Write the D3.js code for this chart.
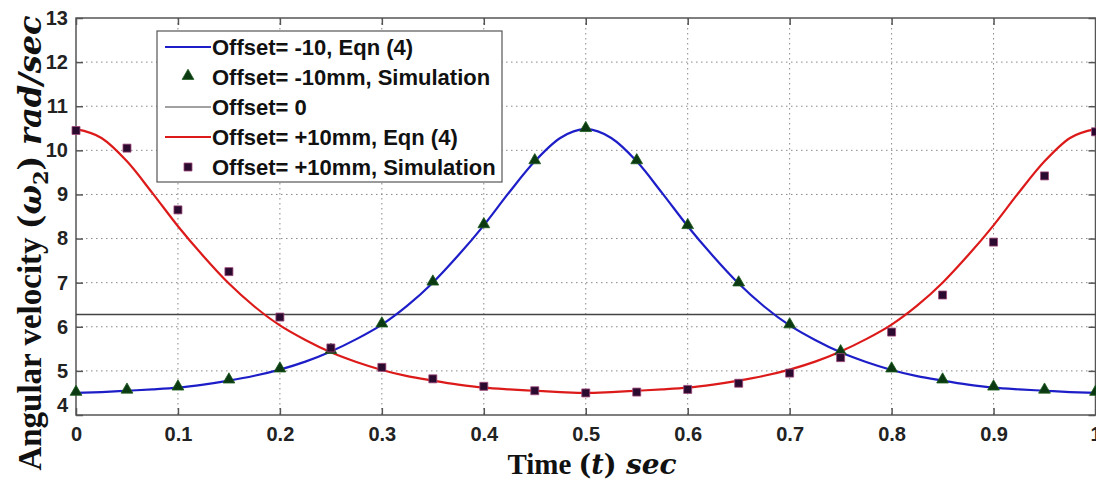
<!DOCTYPE html>
<html>
<head>
<meta charset="utf-8">
<script src="https://cdn.jsdelivr.net/npm/d3@7"></script>
<style>
  body { margin: 0; background: #fff; }
  svg { display: block; }
</style>
</head>
<body>
<div id="plot"></div>
<script>
// simulation sample times (sec)
const times = [0, 0.05, 0.1, 0.15, 0.2, 0.25, 0.3, 0.35, 0.4, 0.45, 0.5,
  0.55, 0.6, 0.65, 0.7, 0.75, 0.8, 0.85, 0.9, 0.95, 1.0];

// Offset = -10mm, Simulation
const minusSim = [4.5, 4.55, 4.62, 4.78, 5.03, 5.45, 6.05, 7.0, 8.3, 9.75, 10.48,
  9.75, 8.28, 6.98, 6.03, 5.42, 5.03, 4.78, 4.62, 4.55, 4.5];
// Offset = +10mm, Simulation
const plusSim = [10.45, 10.05, 8.65, 7.25, 6.22, 5.52, 5.08, 4.82, 4.65, 4.55, 4.5,
  4.52, 4.58, 4.72, 4.95, 5.3, 5.88, 6.72, 7.92, 9.42, 10.42];

// Eqn (4) curves, read every 0.025 s
const curveTimes = [0, 0.025, 0.05, 0.075, 0.1, 0.125, 0.15, 0.175, 0.2, 0.225, 0.25,
  0.275, 0.3, 0.325, 0.35, 0.375, 0.4, 0.425, 0.45, 0.475, 0.5,
  0.525, 0.55, 0.575, 0.6, 0.625, 0.65, 0.675, 0.7, 0.725, 0.75,
  0.775, 0.8, 0.825, 0.85, 0.875, 0.9, 0.925, 0.95, 0.975, 1.0];
// Offset = -10, Eqn (4)
const minusEqn = [4.5, 4.52, 4.55, 4.58, 4.62, 4.69, 4.78, 4.89, 5.03, 5.21, 5.44,
  5.72, 6.05, 6.48, 7.0, 7.62, 8.3, 9.05, 9.75, 10.28, 10.48,
  10.28, 9.75, 9.03, 8.28, 7.6, 6.98, 6.46, 6.03, 5.7, 5.42,
  5.2, 5.02, 4.88, 4.78, 4.69, 4.62, 4.58, 4.55, 4.52, 4.5];
// Offset = +10mm, Eqn (4)
const plusEqn = [10.48, 10.28, 9.75, 9.03, 8.28, 7.6, 6.98, 6.46, 6.03, 5.7, 5.42,
  5.2, 5.02, 4.88, 4.78, 4.69, 4.62, 4.58, 4.55, 4.52, 4.5,
  4.52, 4.55, 4.58, 4.62, 4.69, 4.78, 4.89, 5.03, 5.21, 5.44,
  5.72, 6.05, 6.48, 7.0, 7.62, 8.3, 9.05, 9.75, 10.28, 10.48];
// Offset = 0
const zeroLevel = 6.28;

const xTicks = [0, 0.1, 0.2, 0.3, 0.4, 0.5, 0.6, 0.7, 0.8, 0.9, 1];
const yTicks = [4, 5, 6, 7, 8, 9, 10, 11, 12, 13];

const legendLabels = [
  "Offset= -10, Eqn (4)",
  "Offset= -10mm, Simulation",
  "Offset= 0",
  "Offset= +10mm, Eqn (4)",
  "Offset= +10mm, Simulation"
];

const width = 1096, height = 481;
const mLeft = 76, mRight = 1095.5, mTop = 18, mBottom = 415;

const svg = d3.select("#plot").append("svg")
  .attr("width", width)
  .attr("height", height);

const x = d3.scaleLinear().domain([0, 1]).range([mLeft, mRight]);
const y = d3.scaleLinear().domain([4, 13]).range([mBottom, mTop]);

const blue = "#1e1ec8", red = "#dc1a1a", axisCol = "#555";

// grid
const grid = svg.append("g");
grid.selectAll(".gx").data(xTicks.slice(1, -1)).enter().append("line")
  .attr("x1", d => x(d)).attr("x2", d => x(d))
  .attr("y1", mTop).attr("y2", mBottom)
  .attr("stroke", "#888").attr("stroke-width", 1).attr("stroke-dasharray", "1.5,3.5");
grid.selectAll(".gy").data(yTicks.slice(1, -1)).enter().append("line")
  .attr("x1", mLeft).attr("x2", mRight)
  .attr("y1", d => y(d)).attr("y2", d => y(d))
  .attr("stroke", "#888").attr("stroke-width", 1).attr("stroke-dasharray", "1.5,3.5");

// axes (ticks inside, box style)
const tickFont = g => g.selectAll("text")
  .attr("font-family", "Liberation Sans, Arial, sans-serif")
  .attr("font-weight", "bold").attr("font-size", 20).attr("fill", "#222");

svg.append("g")
  .attr("transform", `translate(0,${mBottom})`)
  .call(d3.axisBottom(x).tickValues(xTicks).tickSizeInner(-7).tickSizeOuter(0)
    .tickPadding(12).tickFormat(d => d === 0 ? "0" : d3.format("")(d)))
  .call(g => g.select(".domain").remove())
  .call(g => g.selectAll("line").attr("stroke", axisCol).attr("stroke-width", 1.5))
  .call(tickFont);

svg.append("g")
  .attr("transform", `translate(${mLeft},0)`)
  .call(d3.axisLeft(y).tickValues(yTicks).tickSizeInner(-7).tickSizeOuter(0).tickPadding(8))
  .call(g => g.select(".domain").remove())
  .call(g => g.selectAll("line").attr("stroke", axisCol).attr("stroke-width", 1.5))
  .call(tickFont)
  .call(g => g.selectAll(".tick").filter(d => d === 4).select("text").attr("dy", "-0.2em"));

svg.append("g")
  .attr("transform", `translate(0,${mTop})`)
  .call(d3.axisTop(x).tickValues(xTicks).tickSizeInner(-7).tickSizeOuter(0).tickFormat(""))
  .call(g => g.select(".domain").remove())
  .call(g => g.selectAll("line").attr("stroke", axisCol).attr("stroke-width", 1.5));

svg.append("g")
  .attr("transform", `translate(${mRight},0)`)
  .call(d3.axisRight(y).tickValues(yTicks).tickSizeInner(-7).tickSizeOuter(0).tickFormat(""))
  .call(g => g.select(".domain").remove())
  .call(g => g.selectAll("line").attr("stroke", axisCol).attr("stroke-width", 1.5));

svg.append("rect")
  .attr("x", mLeft).attr("y", mTop)
  .attr("width", mRight - mLeft).attr("height", mBottom - mTop)
  .attr("fill", "none").attr("stroke", axisCol).attr("stroke-width", 1.5);

// Offset = 0 line
svg.append("line")
  .attr("x1", x(0)).attr("x2", x(1))
  .attr("y1", y(zeroLevel)).attr("y2", y(zeroLevel))
  .attr("stroke", "#444").attr("stroke-width", 1.5);

const line = d3.line()
  .x((d, i) => x(curveTimes[i]))
  .y(d => y(d))
  .curve(d3.curveMonotoneX);

svg.append("path").datum(minusEqn)
  .attr("d", line).attr("fill", "none").attr("stroke", blue).attr("stroke-width", 2.2);
svg.append("path").datum(plusEqn)
  .attr("d", line).attr("fill", "none").attr("stroke", red).attr("stroke-width", 2.2);

const tri = d3.symbol().type(d3.symbolTriangle).size(60);
const sq = d3.symbol().type(d3.symbolSquare).size(64);

svg.append("g").selectAll("path").data(minusSim).enter().append("path")
  .attr("d", tri)
  .attr("transform", (d, i) => `translate(${x(times[i])},${y(d) - 1})`)
  .attr("fill", "#0b3a12").attr("stroke", "#1c5a1c").attr("stroke-width", 0.8);

svg.append("g").selectAll("path").data(plusSim).enter().append("path")
  .attr("d", sq)
  .attr("transform", (d, i) => `translate(${x(times[i])},${y(d)})`)
  .attr("fill", "#2a0a2e").attr("stroke", "#a0487a").attr("stroke-width", 0.8);

// legend
const lg = svg.append("g").attr("transform", "translate(157,31)");
lg.append("rect").attr("width", 345).attr("height", 151)
  .attr("fill", "#fff").attr("stroke", "#555").attr("stroke-width", 1.2);
const rowY = i => 16 + i * 30;
legendLabels.forEach((label, i) => {
  const yy = rowY(i);
  if (i === 0 || i === 2 || i === 3) {
    lg.append("line").attr("x1", 8).attr("x2", 54).attr("y1", yy).attr("y2", yy)
      .attr("stroke", i === 0 ? blue : i === 2 ? "#444" : red)
      .attr("stroke-width", i === 2 ? 1.2 : 2);
  } else if (i === 1) {
    lg.append("path").attr("d", tri).attr("transform", `translate(31,${yy - 1})`)
      .attr("fill", "#0b3a12").attr("stroke", "#1c5a1c").attr("stroke-width", 0.8);
  } else {
    lg.append("path").attr("d", sq).attr("transform", `translate(31,${yy})`)
      .attr("fill", "#2a0a2e").attr("stroke", "#a0487a").attr("stroke-width", 0.8);
  }
  lg.append("text").attr("x", 55).attr("y", yy).attr("dy", "0.36em")
    .attr("font-family", "Liberation Sans, Arial, sans-serif")
    .attr("font-weight", "bold").attr("font-size", 22).attr("fill", "#111")
    .text(label);
});

// axis titles
const mathFont = "DejaVu Serif, serif";
const xt = svg.append("text")
  .attr("x", 592).attr("y", 474).attr("text-anchor", "middle")
  .attr("font-family", "Liberation Serif, Times New Roman, serif")
  .attr("font-weight", "bold").attr("font-size", 29).attr("fill", "#111");
xt.append("tspan").text("Time ");
xt.append("tspan").attr("font-family", mathFont).attr("font-size", 27).text("(");
xt.append("tspan").attr("font-family", mathFont).attr("font-size", 27).attr("font-style", "italic").text("t");
xt.append("tspan").attr("font-family", mathFont).attr("font-size", 27).text(") ");
xt.append("tspan").attr("font-family", mathFont).attr("font-size", 28).attr("font-style", "italic").text("sec");

const yt = svg.append("text")
  .attr("transform", `translate(41,243) rotate(-90)`)
  .attr("text-anchor", "middle")
  .attr("font-family", "Liberation Serif, Times New Roman, serif")
  .attr("font-weight", "bold").attr("font-size", 33).attr("fill", "#111");
yt.append("tspan").text("Angular velocity ");
yt.append("tspan").attr("font-family", mathFont).attr("font-size", 31).text("(");
yt.append("tspan").attr("font-family", mathFont).attr("font-size", 31).attr("font-style", "italic").text("ω");
yt.append("tspan").attr("font-family", mathFont).attr("font-size", 21).attr("dy", 7).text("2");
yt.append("tspan").attr("font-family", mathFont).attr("font-size", 31).attr("dy", -7).text(") ");
yt.append("tspan").attr("font-family", mathFont).attr("font-size", 32).attr("font-style", "italic").text("rad/sec");
</script>
</body>
</html>
